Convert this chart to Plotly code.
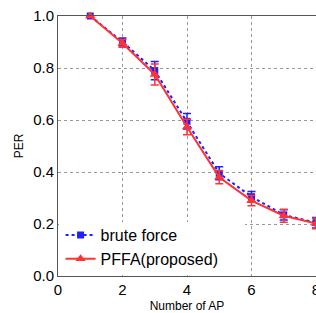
import plotly.graph_objects as go

num_ap = [1, 2, 3, 4, 5, 6, 7, 8]
brute_force = [1.0, 0.90, 0.79, 0.595, 0.395, 0.305, 0.235, 0.205]
brute_err = [0.0, 0.015, 0.035, 0.03, 0.025, 0.02, 0.02, 0.02]
pffa = [1.0, 0.895, 0.775, 0.573, 0.38, 0.29, 0.232, 0.202]
pffa_err = [0.0, 0.015, 0.04, 0.03, 0.025, 0.02, 0.025, 0.02]

fig = go.Figure()
fig.add_trace(go.Scatter(
    x=num_ap, y=brute_force, name="brute force", mode="lines+markers",
    line=dict(color="#1f1fff", width=2, dash="dot"),
    marker=dict(symbol="square", size=7, color="#1f1fff"),
    error_y=dict(type="data", array=brute_err, color="#1f1fff", thickness=1.5, width=4),
    cliponaxis=False,
))
fig.add_trace(go.Scatter(
    x=num_ap, y=pffa, name="PFFA(proposed)", mode="lines+markers",
    line=dict(color="#ff3333", width=2),
    marker=dict(symbol="triangle-up", size=9, color="#ff3333"),
    error_y=dict(type="data", array=pffa_err, color="#ff3333", thickness=1.5, width=4),
    cliponaxis=False,
))

# white box behind the legend, hiding the grid there
fig.add_shape(type="rect", xref="x", yref="y", x0=0.03, x1=5.8, y0=0.004, y1=0.208,
              fillcolor="white", line=dict(width=0), layer="between")

fig.update_layout(
    width=316, height=313,
    margin=dict(l=58, r=0, t=16, b=37),
    plot_bgcolor="white", paper_bgcolor="white",
    font=dict(family="Arial, Liberation Sans, sans-serif", color="black"),
    showlegend=True,
    legend=dict(x=0.01, y=0.0, xanchor="left", yanchor="bottom",
                bgcolor="rgba(0,0,0,0)", borderwidth=0, font=dict(size=16),
                tracegroupgap=0, itemwidth=30),
)
fig.update_xaxes(
    range=[0, 8], tickvals=[0, 2, 4, 6, 8], tickfont=dict(size=15),
    ticklabeloverflow="allow", automargin=False,
    showgrid=True, gridcolor="#999999", griddash="dot", gridwidth=1,
    showline=True, linecolor="#555555", linewidth=1, mirror=True,
    zeroline=False, ticks="", title=dict(text="Number of AP", font=dict(size=12), standoff=4),
)
fig.update_yaxes(
    range=[0, 1], tickvals=[0, 0.2, 0.4, 0.6, 0.8, 1.0], tickformat=".1f",
    tickfont=dict(size=15), ticklabeloverflow="allow", automargin=False,
    showgrid=True, gridcolor="#999999", griddash="dot", gridwidth=1,
    showline=True, linecolor="#555555", linewidth=1, mirror=True,
    zeroline=False, ticks="", title=dict(text="PER", font=dict(size=12), standoff=6),
)

fig.write_html(
    "out.html",
    config={"displayModeBar": False},
    post_script="document.body.style.margin='0';document.body.style.overflow='hidden';",
)
